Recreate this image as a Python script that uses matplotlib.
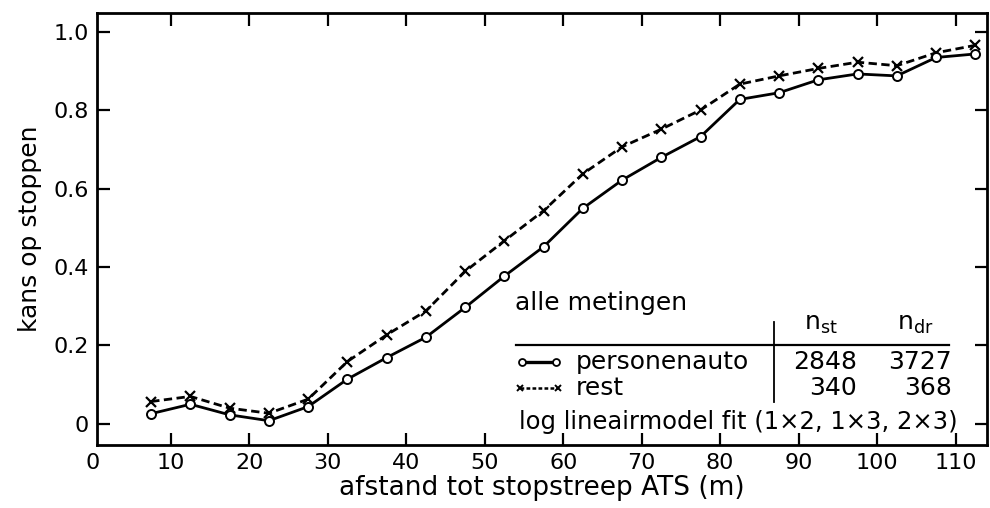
import matplotlib
matplotlib.use("Agg")
import matplotlib.pyplot as plt

# afstand tot stopstreep (m), midpoints of 5 m classes
afstand = [7.5, 12.5, 17.5, 22.5, 27.5, 32.5, 37.5, 42.5, 47.5, 52.5, 57.5,
           62.5, 67.5, 72.5, 77.5, 82.5, 87.5, 92.5, 97.5, 102.5, 107.5, 112.5]
personenauto = [0.026, 0.050, 0.023, 0.008, 0.044, 0.114, 0.169, 0.221, 0.297, 0.377, 0.452,
                0.550, 0.622, 0.680, 0.733, 0.828, 0.845, 0.878, 0.893, 0.888, 0.935, 0.944]
rest = [0.057, 0.070, 0.040, 0.027, 0.063, 0.159, 0.227, 0.288, 0.389, 0.467, 0.544,
        0.638, 0.707, 0.752, 0.801, 0.867, 0.888, 0.907, 0.923, 0.914, 0.947, 0.966]

xticks = [10, 20, 30, 40, 50, 60, 70, 80, 90, 100, 110]
yticks = [0, 0.2, 0.4, 0.6, 0.8, 1.0]
ytick_labels = ["0", "0.2", "0.4", "0.6", "0.8", "1.0"]

n_st = {"personenauto": 2848, "rest": 340}
n_dr = {"personenauto": 3727, "rest": 368}

plt.rcParams['font.family'] = ['DejaVu Sans']

fig = plt.figure(figsize=(9.9, 5.08), dpi=100)
ax = fig.add_axes([0.098, 0.124, 0.899, 0.850])

lw = 2.0
ax.plot(afstand, personenauto, color='black', lw=lw, marker='o', ms=6.5,
        mfc='white', mec='black', mew=1.4, zorder=3)
ax.plot(afstand, rest, color='black', lw=lw, ls=(0, (3, 1.6)), marker='x',
        ms=7, mew=1.6, zorder=2)

ax.set_xlim(0.6, 114)
ax.set_ylim(-0.054, 1.048)
ax.set_xticks(xticks)
ax.set_xticklabels([str(t) for t in xticks])
ax.set_yticks(yticks)
ax.set_yticklabels(ytick_labels)
ax.tick_params(direction='in', length=9, width=1.6, labelsize=16,
               top=True, right=True, pad=6)
for s in ax.spines.values():
    s.set_linewidth(2.0)

# the "0" of the x axis sits just left of the frame
ax.text(0, -0.075, "0", ha='center', va='top', fontsize=16, clip_on=False)

ax.set_xlabel("afstand tot stopstreep ATS (m)", fontsize=19, labelpad=1)
ax.set_ylabel("kans op stoppen", fontsize=18, labelpad=8)

# annotation block
fs = 18
ax.text(53.8, 0.309, "alle metingen", fontsize=fs, ha='left', va='center')
ax.plot([54.0, 109.1], [0.2015, 0.2015], color='black', lw=1.6)
ax.plot([86.8, 86.8], [0.056, 0.26], color='black', lw=1.3)
ax.text(92.8, 0.255, r"$\mathregular{n_{st}}$", fontsize=fs, ha='center', va='center')
ax.text(104.9, 0.255, r"$\mathregular{n_{dr}}$", fontsize=fs, ha='center', va='center')

ax.plot([54.8, 59.1], [0.158, 0.158], color='black', lw=2.4, marker='o', ms=5,
        mfc='white', mec='black', mew=1.3)
ax.plot([54.5, 59.3], [0.092, 0.092], color='black', lw=1.8, ls=(0, (1.5, 0.9)),
        marker='x', ms=4.5, mew=1.4)
ax.text(61.6, 0.158, "personenauto", fontsize=fs, ha='left', va='center')
ax.text(61.6, 0.092, "rest", fontsize=fs, ha='left', va='center')
ax.text(97.4, 0.158, str(n_st["personenauto"]), fontsize=fs, ha='right', va='center')
ax.text(109.5, 0.158, str(n_dr["personenauto"]), fontsize=fs, ha='right', va='center')
ax.text(97.4, 0.092, str(n_st["rest"]), fontsize=fs, ha='right', va='center')
ax.text(109.5, 0.092, str(n_dr["rest"]), fontsize=fs, ha='right', va='center')
ax.text(54.4, 0.005, "log lineairmodel fit (1×2, 1×3, 2×3)", fontsize=17.5,
        ha='left', va='center')

fig.savefig("out.png", dpi=100)
